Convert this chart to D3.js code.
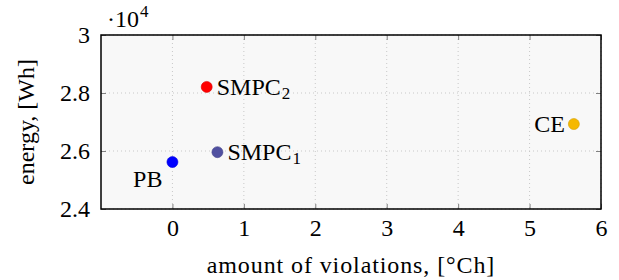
<!DOCTYPE html>
<html>
<head>
<meta charset="utf-8">
<script src="https://cdn.jsdelivr.net/npm/d3@7"></script>
<style>
  body { margin: 0; background: #fff; }
  text { font-family: "Liberation Serif", "Times New Roman", serif; fill: #000; }
</style>
</head>
<body>
<div id="chart"></div>
<script>
// controllers and where they land
var names = ['PB', 'SMPC1', 'SMPC2', 'CE'];
var violations = [0, 0.63, 0.48, 5.62];
var energy = [25620, 25960, 28210, 26930];
var colours = ['#0000ff', '#5050a0', '#ff0000', '#f5b800'];

var xTicks = [0, 1, 2, 3, 4, 5, 6];
var yTicks = [2.4, 2.6, 2.8, 3];

var fontSize = '24px';
var subSize = '17px';

function createChart() {
  var canvasWidth = 619;
  var canvasHeight = 280;

  var margin = { top: 35, right: 18, left: 101, bottom: 71 };

  var w = canvasWidth - margin.left - margin.right;
  var h = canvasHeight - margin.top - margin.bottom;

  var svg = d3.select('#chart')
    .append('svg')
    .attr('width', canvasWidth)
    .attr('height', canvasHeight);

  var inner = svg.append('g')
    .attr('transform', 'translate(' + margin.left + ',' + margin.top + ')');

  return [svg, inner, w, h];
}

function renderChart(svg, g, w, h) {
  var x = d3.scaleLinear().domain([-1, 6]).range([0, w]);
  var y = d3.scaleLinear().domain([24000, 30000]).range([h, 0]);

  g.append('rect')
    .attr('width', w).attr('height', h)
    .style('fill', '#f8f8f8');

  // dotted grid
  g.selectAll('line.gx')
    .data(xTicks)
    .enter().append('line')
    .attr('x1', d => x(d)).attr('x2', d => x(d))
    .attr('y1', 0).attr('y2', h)
    .style('stroke', '#c8c8c8').style('stroke-dasharray', '1,3');

  g.selectAll('line.gy')
    .data(yTicks)
    .enter().append('line')
    .attr('x1', 0).attr('x2', w)
    .attr('y1', d => y(d * 1e4)).attr('y2', d => y(d * 1e4))
    .style('stroke', '#c8c8c8').style('stroke-dasharray', '1,3');

  // axes, ticks pointing inwards on all four sides
  var fmtY = d3.format('.1f');
  var yFmt = d => (d === 30000 ? '3' : fmtY(d / 1e4));

  var bottom = g.append('g').attr('transform', 'translate(0,' + h + ')')
    .call(d3.axisBottom(x).tickValues(xTicks).tickSizeInner(-5).tickSizeOuter(0).tickPadding(10).tickFormat(d3.format('d')));
  var top = g.append('g')
    .call(d3.axisTop(x).tickValues(xTicks).tickSizeInner(-5).tickSizeOuter(0).tickFormat(''));
  var left = g.append('g')
    .call(d3.axisLeft(y).tickValues(yTicks.map(d => d * 1e4)).tickSizeInner(-5).tickSizeOuter(0).tickPadding(11).tickFormat(yFmt));
  var right = g.append('g').attr('transform', 'translate(' + w + ',0)')
    .call(d3.axisRight(y).tickValues(yTicks.map(d => d * 1e4)).tickSizeInner(-5).tickSizeOuter(0).tickFormat(''));

  [bottom, top, left, right].forEach(a => {
    a.attr('font-family', null).attr('font-size', null);
    a.select('.domain').remove();
    a.selectAll('.tick line').style('stroke', '#808080');
    a.selectAll('.tick text').style('font-size', fontSize);
  });
  bottom.selectAll('.tick text').attr('dy', '0.72em');

  g.append('rect')
    .attr('width', w).attr('height', h)
    .style('fill', 'none').style('stroke', '#000').style('stroke-width', 1.5);

  // points
  g.selectAll('circle.pt')
    .data(names)
    .enter().append('circle')
    .attr('class', 'pt')
    .attr('cx', (d, i) => x(violations[i]))
    .attr('cy', (d, i) => y(energy[i]))
    .attr('r', 5.5)
    .style('fill', (d, i) => colours[i])
    .style('stroke', (d, i) => d3.color(colours[i]).darker(0.4))
    .style('stroke-width', 0.6);

  // point labels
  var labelPos = {
    PB: { dx: -10, dy: 25, anchor: 'end' },
    SMPC1: { dx: 10, dy: 8, anchor: 'start' },
    SMPC2: { dx: 10, dy: 8, anchor: 'start' },
    CE: { dx: -9, dy: 8, anchor: 'end' }
  };

  names.forEach((n, i) => {
    var p = labelPos[n];
    var t = g.append('text')
      .attr('x', x(violations[i]) + p.dx)
      .attr('y', y(energy[i]) + p.dy)
      .attr('text-anchor', p.anchor)
      .style('font-size', fontSize);
    if (n.startsWith('SMPC')) {
      t.append('tspan').text('SMPC');
      t.append('tspan').attr('dy', 4).attr('dx', 1).style('font-size', subSize).text(n.slice(4));
    } else {
      t.text(n);
    }
  });

  // scale factor
  var sf = svg.append('text')
    .attr('x', 107).attr('y', 27)
    .style('font-size', fontSize);
  sf.append('tspan').text('·10');
  sf.append('tspan').attr('dy', -10).attr('dx', 1).style('font-size', subSize).text('4');

  // axis titles
  svg.append('text')
    .attr('x', 101 + w / 2).attr('y', 273)
    .attr('text-anchor', 'middle')
    .style('font-size', fontSize)
    .style('letter-spacing', '0.9px')
    .text('amount of violations, [°Ch]');

  svg.append('text')
    .attr('transform', 'translate(34,' + (35 + h / 2) + ') rotate(-90)')
    .attr('text-anchor', 'middle')
    .style('font-size', fontSize)
    .text('energy, [Wh]');
}

function init() {
  var c = createChart();
  renderChart(c[0], c[1], c[2], c[3]);
}

window.onload = init;
</script>
</body>
</html>
